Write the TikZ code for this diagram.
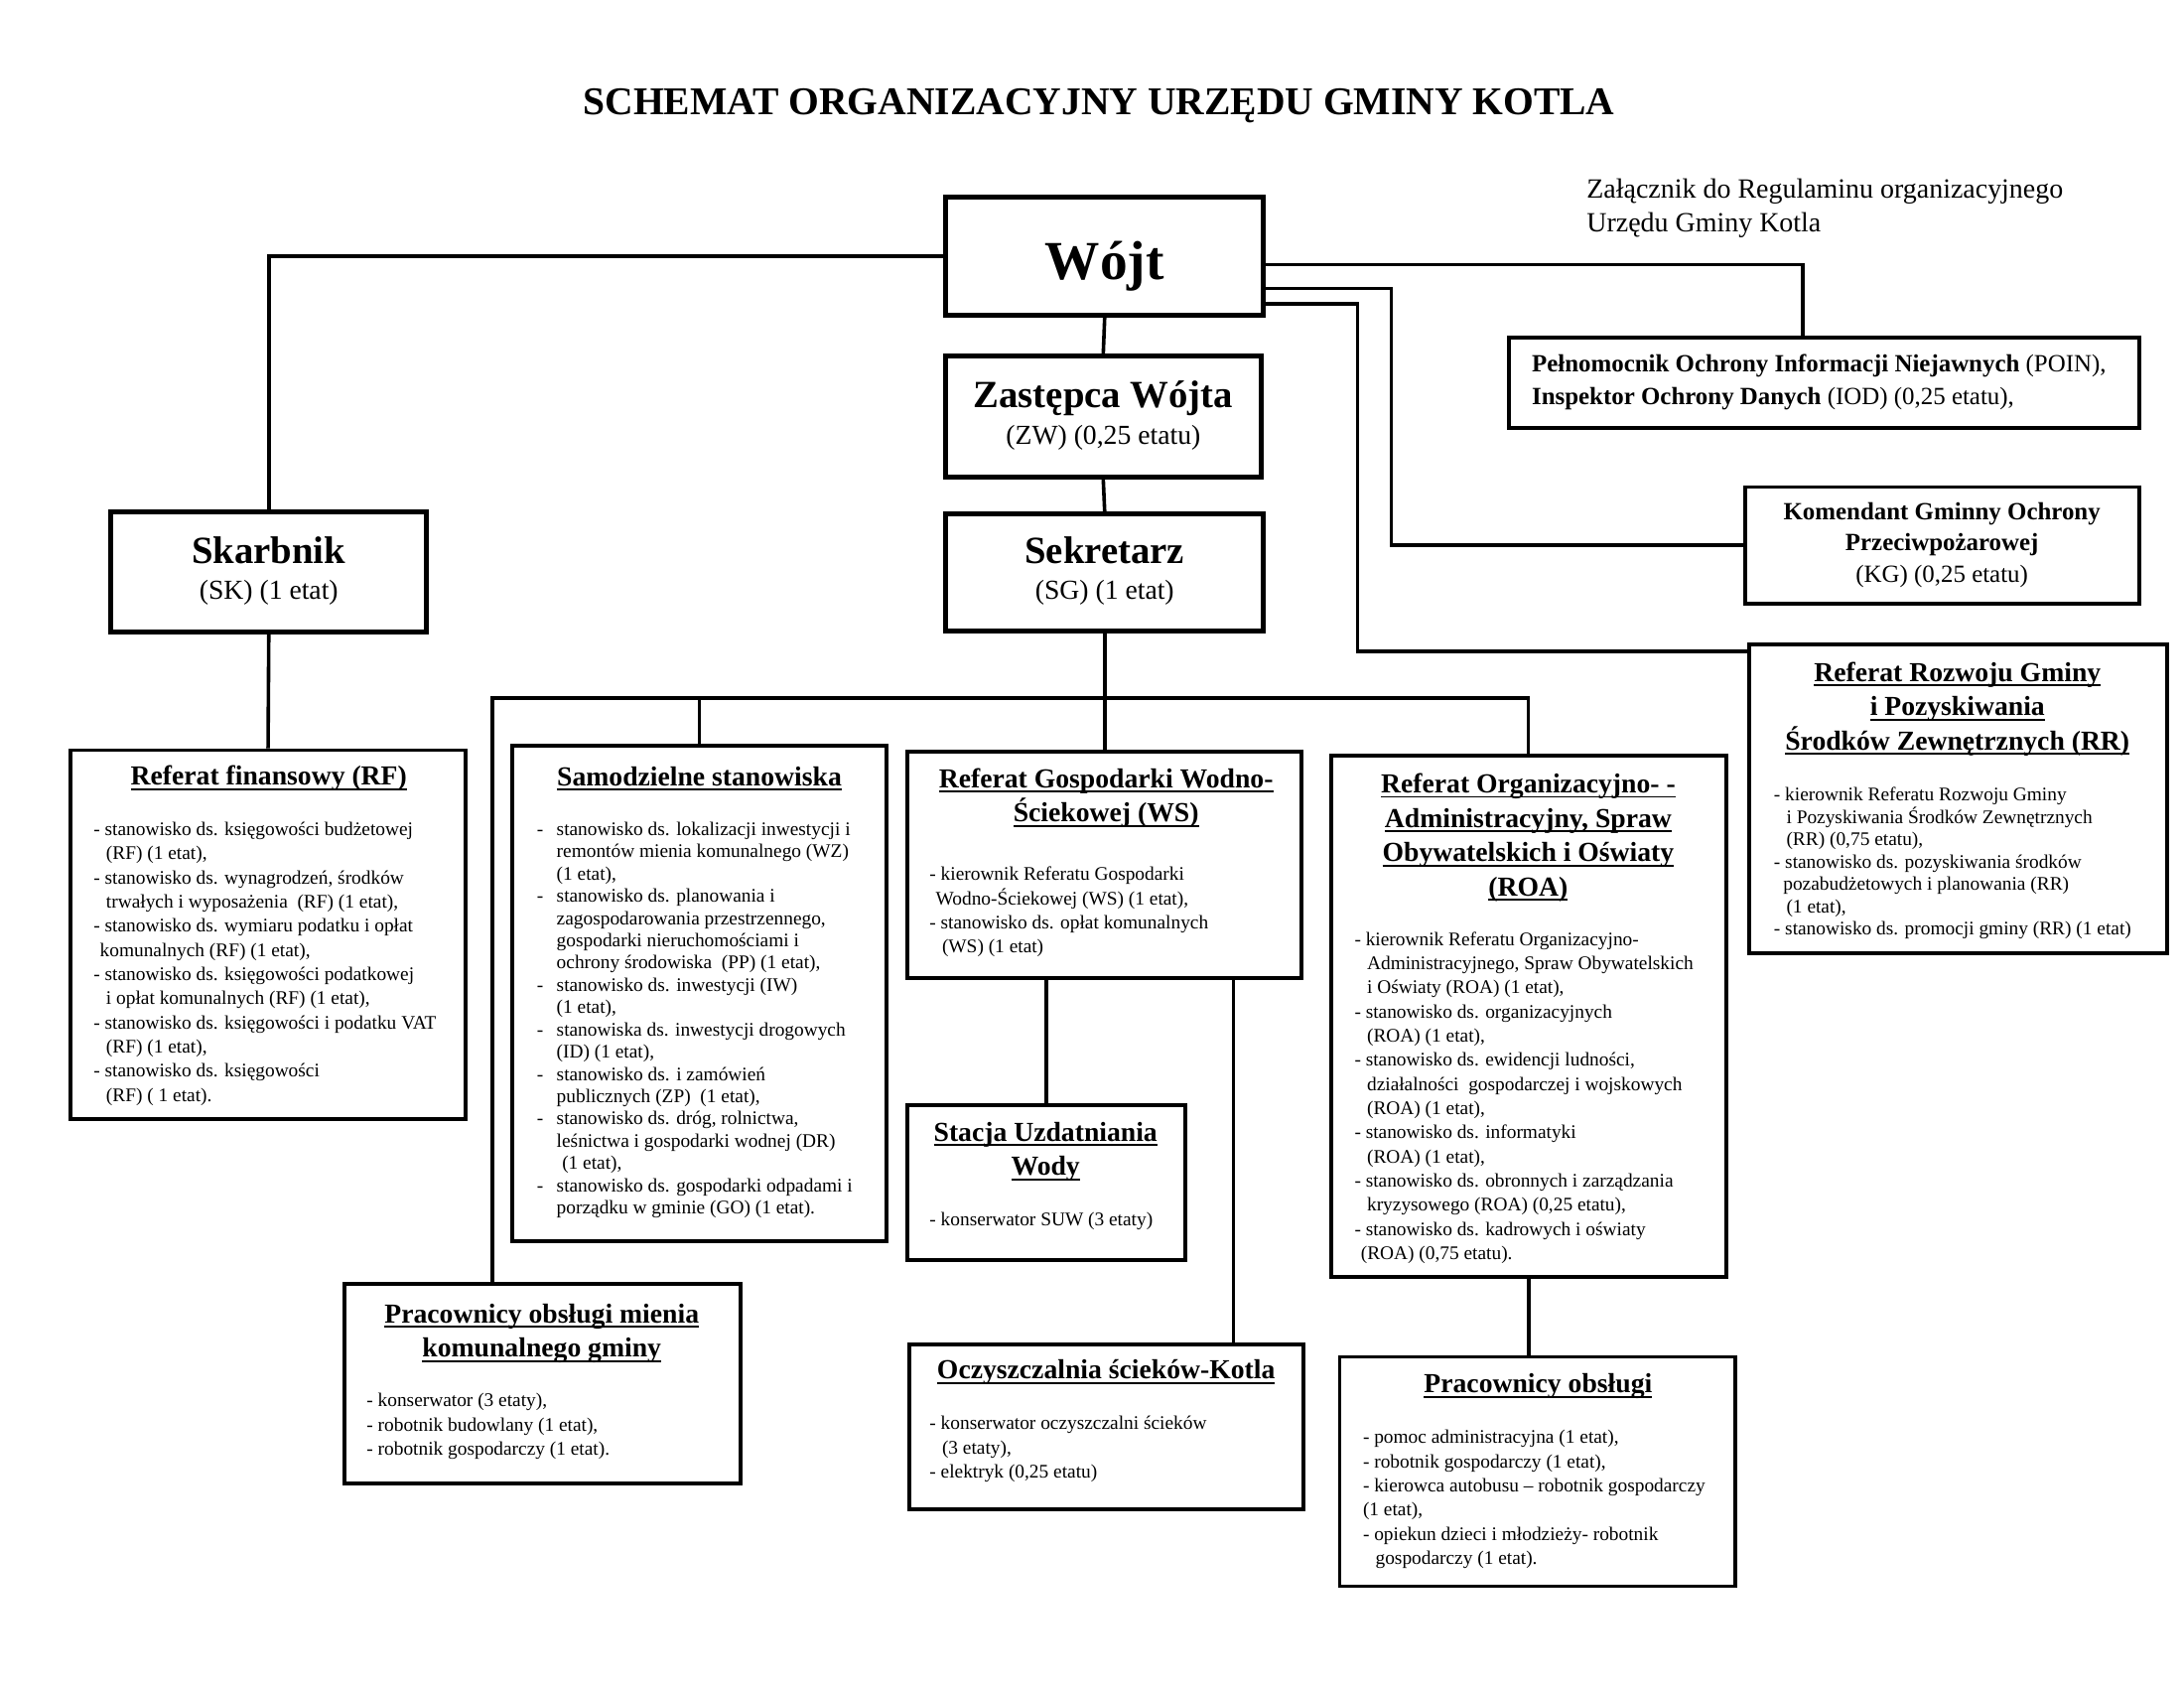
\documentclass[tikz,border=0pt]{standalone}
\usepackage{fontspec}
\setmainfont{Liberation Serif}
\usepackage{tikz}
\usetikzlibrary{positioning,calc}
\newcommand{\hd}[1]{\setbox0\hbox{#1}\rlap{\rule[-1.8pt]{\wd0}{0.7pt}}\box0}
\newcommand{\ind}{\hspace*{1.6mm}}
\newcommand{\sind}{\hspace*{0.8mm}}

\begin{document}
\begin{tikzpicture}[x=0.018cm, y=-0.018cm, semithick,
    orgbox/.style={draw, line width=1.4pt, inner sep=0pt},
    leadbox/.style={orgbox, line width=1.8pt},
    wh/.style 2 args={minimum width=#1*0.018cm, minimum height=#2*0.018cm},
    conn/.style={line width=1.3pt},
    headtxt/.style={font=\fontsize{10}{12.5}\selectfont\bfseries, inner sep=0pt},
    itemtxt/.style={font=\fontsize{7}{8.8}\selectfont, inner sep=0pt, anchor=north west},
    itemtight/.style={itemtxt, font=\fontsize{7}{8.1}\selectfont},
    bigname/.style={font=\fontsize{14}{17}\selectfont\bfseries, inner sep=0pt},
    subtxt/.style={font=\fontsize{10}{12}\selectfont, inner sep=0pt}]
  \useasboundingbox (0,0) rectangle (1552,1200);

  \node[font=\fontsize{14.3}{17}\selectfont\bfseries] (title) at (781,75) {SCHEMAT ORGANIZACYJNY URZĘDU GMINY KOTLA};
  \node[anchor=north west, inner sep=0pt, font=\fontsize{10.1}{12.3}\selectfont] (zal) at (1127,123) {\begin{tabular}{@{}l@{}} Załącznik do Regulaminu organizacyjnego \\ Urzędu Gminy Kotla \end{tabular}};

  % kierownictwo
  \node[leadbox, wh={226}{84}] (wojt) at (785,182) {};
  \node[font=\fontsize{20}{24}\selectfont\bfseries, inner sep=0pt] (wojt_t) at (785,189) {Wójt};
  \node[leadbox, wh={224}{86}] (zast) at (784,296) {};
  \node[bigname] (zast_t) at (784,283) {Zastępca Wójta};
  \node[subtxt] (zast_s) at (784,311) {(ZW) (0,25 etatu)};
  \node[leadbox, wh={226}{83}] (sekr) at (785,406.5) {};
  \node[bigname] (sekr_t) at (785,391) {Sekretarz};
  \node[subtxt] (sekr_s) at (785,421) {(SG) (1 etat)};
  \node[leadbox, wh={224}{85}] (skarb) at (191,406.5) {};
  \node[bigname] (skarb_t) at (191,391) {Skarbnik};
  \node[subtxt] (skarb_s) at (191,421) {(SK) (1 etat)};

  % stanowiska przy wojcie
  \node[orgbox, wh={448}{64}] (poin) at (1296,272) {};
  \node[anchor=west, inner sep=0pt, font=\fontsize{9}{11.8}\selectfont] (poin_t) at (1088,271) {\begin{tabular}{@{}l@{}} \textbf{Pełnomocnik Ochrony Informacji Niejawnych} (POIN), \\ \textbf{Inspektor Ochrony Danych} (IOD) (0,25 etatu), \end{tabular}};
  \node[orgbox, wh={280}{83}] (kom) at (1380,387.5) {};
  \node[inner sep=0pt, font=\fontsize{9}{11.3}\selectfont] (kom_t) at (1380,387) {\begin{tabular}{@{}c@{}} \textbf{Komendant Gminny Ochrony} \\ \textbf{Przeciwpożarowej} \\ (KG) (0,25 etatu) \end{tabular}};
  \node[orgbox, wh={297}{219}] (rr) at (1391.5,567.5) {};
  \node[headtxt] (rr_t) at (1391,503.5) {\begin{tabular}{@{}c@{}} \hd{Referat Rozwoju Gminy} \\ \hd{i Pozyskiwania} \\ \hd{Środków Zewnętrznych (RR)} \end{tabular}};
  \node[itemtight] (rr_l) at (1260,557) {\begin{tabular}{@{}l@{}}
    - kierownik Referatu Rozwoju Gminy \\
    \ind i Pozyskiwania Środków Zewnętrznych \\
    \ind(RR) (0,75 etatu), \\
    - stanowisko ds. pozyskiwania środków \\
    \hspace*{1.2mm}pozabudżetowych i planowania (RR) \\
    \ind(1 etat), \\
    - stanowisko ds. promocji gminy (RR) (1 etat) \end{tabular}};

  % referat finansowy
  \node[orgbox, wh={281}{262}] (rf) at (190.5,664) {};
  \node[headtxt] (rf_t) at (191,553) {\hd{Referat finansowy (RF)}};
  \node[itemtxt] (rf_l) at (66,581) {\begin{tabular}{@{}l@{}}
    - stanowisko ds. księgowości budżetowej \\
    \ind(RF) (1 etat), \\
    - stanowisko ds. wynagrodzeń, środków \\
    \ind trwałych i wyposażenia\ \ (RF) (1 etat), \\
    - stanowisko ds. wymiaru podatku i opłat \\
    \sind komunalnych (RF) (1 etat), \\
    - stanowisko ds. księgowości podatkowej \\
    \ind i opłat komunalnych (RF) (1 etat), \\
    - stanowisko ds. księgowości i podatku VAT \\
    \ind(RF) (1 etat), \\
    - stanowisko ds. księgowości \\
    \ind(RF) ( 1 etat). \end{tabular}};

  % samodzielne stanowiska
  \node[orgbox, wh={266}{352}] (samo) at (497,706) {};
  \node[headtxt] (samo_t) at (497,553) {\hd{Samodzielne stanowiska}};
  \node[itemtight] (samo_l) at (381,582) {\begin{tabular}{@{}l@{\hspace{1.7mm}}l@{}}
    - & stanowisko ds. lokalizacji inwestycji i \\
      & remontów mienia komunalnego (WZ) \\
      & (1 etat), \\
    - & stanowisko ds. planowania i \\
      & zagospodarowania przestrzennego, \\
      & gospodarki nieruchomościami i \\
      & ochrony środowiska\ \ (PP) (1 etat), \\
    - & stanowisko ds. inwestycji (IW) \\
      & (1 etat), \\
    - & stanowiska ds. inwestycji drogowych \\
      & (ID) (1 etat), \\
    - & stanowisko ds. i zamówień \\
      & publicznych (ZP)\ \ (1 etat), \\
    - & stanowisko ds. dróg, rolnictwa, \\
      & leśnictwa i gospodarki wodnej (DR) \\
      & \hspace*{0.7mm}(1 etat), \\
    - & stanowisko ds. gospodarki odpadami i \\
      & porządku w gminie (GO) (1 etat). \end{tabular}};

  % gospodarka wodno-sciekowa
  \node[orgbox, wh={280}{161}] (ws) at (785,614.5) {};
  \node[headtxt] (ws_t) at (786,567) {\begin{tabular}{@{}c@{}} \hd{Referat Gospodarki Wodno-} \\ \hd{Ściekowej (WS)} \end{tabular}};
  \node[itemtxt] (ws_l) at (660,613) {\begin{tabular}{@{}l@{}}
    - kierownik Referatu Gospodarki \\
    \sind Wodno-Ściekowej (WS) (1 etat), \\
    - stanowisko ds. opłat komunalnych \\
    \ind(WS) (1 etat) \end{tabular}};
  \node[orgbox, wh={197}{110}] (stacja) at (743.5,840) {};
  \node[headtxt] (stacja_t) at (743,818) {\begin{tabular}{@{}c@{}} \hd{Stacja Uzdatniania} \\ \hd{Wody} \end{tabular}};
  \node[itemtxt] (stacja_l) at (660,858) {\begin{tabular}{@{}l@{}} - konserwator SUW (3 etaty) \end{tabular}};
  \node[orgbox, wh={280}{117}] (ocz) at (786,1013.5) {};
  \node[headtxt] (ocz_t) at (786,975) {\hd{Oczyszczalnia ścieków-Kotla}};
  \node[itemtxt] (ocz_l) at (660,1003) {\begin{tabular}{@{}l@{}}
    - konserwator oczyszczalni ścieków \\
    \ind(3 etaty), \\
    - elektryk (0,25 etatu) \end{tabular}};

  % referat organizacyjny
  \node[orgbox, wh={281}{370}] (roa) at (1086.5,722) {};
  \node[headtxt] (roa_t) at (1086,595) {\begin{tabular}{@{}c@{}} \hd{Referat Organizacyjno- -} \\ \hd{Administracyjny, Spraw} \\ \hd{Obywatelskich i Oświaty} \\ \hd{(ROA)} \end{tabular}};
  \node[itemtxt] (roa_l) at (962,659) {\begin{tabular}{@{}l@{}}
    - kierownik Referatu Organizacyjno- \\
    \ind Administracyjnego, Spraw Obywatelskich \\
    \ind i Oświaty (ROA) (1 etat), \\
    - stanowisko ds. organizacyjnych \\
    \ind(ROA) (1 etat), \\
    - stanowisko ds. ewidencji ludności, \\
    \ind działalności\ \ gospodarczej i wojskowych \\
    \ind(ROA) (1 etat), \\
    - stanowisko ds. informatyki \\
    \ind(ROA) (1 etat), \\
    - stanowisko ds. obronnych i zarządzania \\
    \ind kryzysowego (ROA) (0,25 etatu), \\
    - stanowisko ds. kadrowych i oświaty \\
    \sind(ROA) (0,75 etatu). \end{tabular}};
  \node[orgbox, wh={281}{163}] (obs) at (1092.5,1045.5) {};
  \node[headtxt] (obs_t) at (1093,985) {\hd{Pracownicy obsługi}};
  \node[itemtxt] (obs_l) at (968,1013) {\begin{tabular}{@{}l@{}}
    - pomoc administracyjna (1 etat), \\
    - robotnik gospodarczy (1 etat), \\
    - kierowca autobusu -- robotnik gospodarczy \\
    (1 etat), \\
    - opiekun dzieci i młodzieży- robotnik \\
    \ind gospodarczy (1 etat). \end{tabular}};

  % mienie komunalne
  \node[orgbox, wh={281}{142}] (mienia) at (385.5,983) {};
  \node[headtxt] (mienia_t) at (385,947) {\begin{tabular}{@{}c@{}} \hd{Pracownicy obsługi mienia} \\ \hd{komunalnego gminy} \end{tabular}};
  \node[itemtxt] (mienia_l) at (260,987) {\begin{tabular}{@{}l@{}}
    - konserwator (3 etaty), \\
    - robotnik budowlany (1 etat), \\
    - robotnik gospodarczy (1 etat). \end{tabular}};

  % polaczenia
  \coordinate (bus_l) at (350,496);
  \coordinate (bus_r) at (1086,496);
  \coordinate (ws_o) at ([xshift=-0.9cm]ws.south east);
  \coordinate (poin_in) at ([xshift=-0.27cm]poin.north);
  \draw[conn] (wojt.west) -| (skarb.north);
  \draw[conn] (wojt.south) -- (zast.north);
  \draw[conn] (zast.south) -- (sekr.north);
  \draw[conn] (skarb.south) -- (rf.north);
  \draw[conn] (sekr.south) -- (ws.north);
  \draw[conn] (mienia.north -| bus_l) -- (bus_l) -- (bus_r) -- (roa.north -| bus_r);
  \draw[conn] (samo.north) -- (samo.north |- bus_l);
  \draw[conn] (ws.south -| stacja.north) -- (stacja.north);
  \draw[conn] (ws_o) -- (ws_o |- ocz.north);
  \draw[conn] (roa.south) -- (roa.south |- obs.north);
  \draw[conn] ($(wojt.east)+(0,6)$) -| (poin_in);
  \draw[conn] ($(wojt.east)+(0,23)$) -- ++(89,0) |- (kom.west);
  \draw[conn] ($(wojt.east)+(0,34)$) -- ++(65,0) |- ($(rr.north west)+(0,6)$);
\end{tikzpicture}
\end{document}
